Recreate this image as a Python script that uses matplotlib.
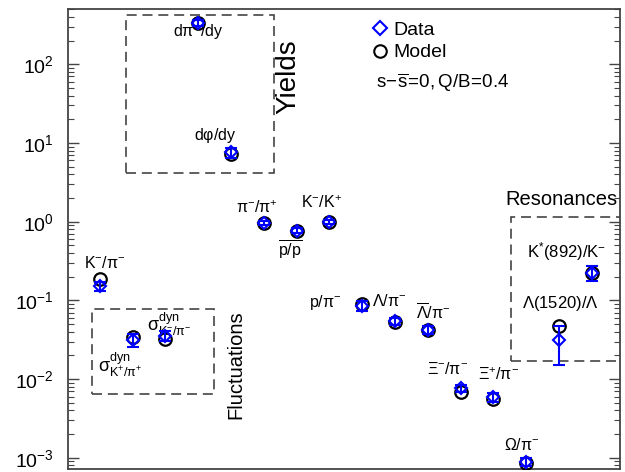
import matplotlib
matplotlib.use('Agg')
import matplotlib.pyplot as plt
from matplotlib.patches import Rectangle
from matplotlib.lines import Line2D
import numpy as np

plt.rcParams['font.family'] = ['Liberation Sans', 'DejaVu Sans']
plt.rcParams['mathtext.fontset'] = 'custom'
plt.rcParams['mathtext.rm'] = 'Liberation Sans'
plt.rcParams['mathtext.it'] = 'Liberation Sans:italic'
plt.rcParams['mathtext.bf'] = 'Liberation Sans:bold'

# particle ratios / yields, one slot per x position 1..16
pos = np.arange(1, 17)
data = [0.152, 0.0314, 0.0353, 338, 7.6, 0.96, 0.77, 0.99,
        0.086, 0.054, 0.042, 0.0077, 0.0059, 0.00088, 0.0314, 0.224]
data_err = [0.02, 0.0055, 0.005, 30, 1.1, 0.05, 0.05, 0.05,
            0.013, 0.006, 0.005, 0.0008, 0.0008, 0.0001, 0.0163, 0.049]
model = [0.185, 0.034, 0.032, 338, 7.3, 0.955, 0.768, 1.0,
         0.090, 0.053, 0.0415, 0.0069, 0.0056, 0.00086, 0.0473, 0.224]

# label text, x, y, size
labels = [
    (r'$\mathregular{K^{-}/π^{-}}$', 1.15, 0.30, 11.5),
    (r'$\mathregular{σ^{dyn}_{K^{+}/π^{+}}}$', 1.62, 0.0150, 13),
    (r'$\mathregular{σ^{dyn}_{K^{-}/π^{-}}}$', 3.1, 0.050, 13),
    (r'$\mathregular{dπ^{-}/dy}$', 3.99, 258, 11.5),
    (r'$\mathregular{dφ/dy}$', 4.51, 12.6, 11.5),
    (r'$\mathregular{π^{-}/π^{+}}$', 5.79, 1.49, 11.5),
    (r'$\mathregular{\overline{p/p}}$', 6.81, 0.425, 11.5),
    (r'$\mathregular{K^{-}/K^{+}}$', 7.77, 1.73, 11.5),
    (r'$\mathregular{p/π^{-}}$', 7.87, 0.0933, 11.5),
    (r'$\mathregular{Λ/π^{-}}$', 9.82, 0.0988, 11.5),
    (r'$\mathregular{\overline{Λ}/π^{-}}$', 11.16, 0.070, 11.5),
    (r'$\mathregular{Ξ^{-}/π^{-}}$', 11.59, 0.0134, 11.5),
    (r'$\mathregular{Ξ^{+}/π^{-}}$', 13.17, 0.0113, 11.5),
    (r'$\mathregular{Ω/π^{-}}$', 13.86, 0.00144, 11.5),
    (r'$\mathregular{Λ(1520)/Λ}$', 15.04, 0.0913, 12),
    (r'$\mathregular{K^{*}(892)/K^{-}}$', 15.23, 0.415, 12),
]

# dashed group boxes: x0, x1, y0, y1
boxes = [(1.79, 6.31, 4.16, 427), (0.757, 4.48, 0.00643, 0.0778),
         (13.54, 17.5, 0.0169, 1.147)]

fig = plt.figure(figsize=(6.25, 4.72), dpi=100)
ax = fig.add_axes([0.1088, 0.0064, 0.8832, 0.9746])
ax.set_yscale('log')
ax.set_xlim(0.03, 16.86)
ax.set_ylim(7.2e-4, 504)

ax.plot(pos, model, 'o', ms=9, mfc='none', mec='black', mew=1.6, zorder=3)
ax.errorbar(pos, data, yerr=data_err, fmt='D', ms=6.5, mfc='none', mec='#0000ff',
            mew=1.5, ecolor='#0000ff', elinewidth=1.5, capsize=4.5, capthick=1.5, zorder=4)

for x0, x1, y0, y1 in boxes:
    ax.add_patch(Rectangle((x0, y0), x1 - x0, y1 - y0, fill=False, ec='#444444',
                           lw=1.2, ls=(0, (6, 3.5)), clip_on=True))

for txt, x, y, fs in labels:
    ax.text(x, y, txt, fontsize=fs, ha='center', va='center')

ax.text(6.74, 68.7, 'Yields', fontsize=20, rotation=90, ha='center', va='center')
ax.text(5.15, 0.0151, 'Fluctuations', fontsize=14.5, rotation=90, ha='center', va='center')
ax.text(15.06, 1.89, 'Resonances', fontsize=14.5, ha='center', va='center')
ax.text(0.558, 0.839, r'$\mathregular{s\!-\!\overline{s}\!=\!0,Q/B\!=\!0.4}$', fontsize=13.5,
        transform=ax.transAxes, ha='left', va='center')

h1 = Line2D([], [], ls='none', marker='D', ms=7.5, mfc='none', mec='#0000ff', mew=1.5)
h2 = Line2D([], [], ls='none', marker='o', ms=9, mfc='none', mec='black', mew=1.5)
ax.legend([h1, h2], ['Data', 'Model'], loc='upper left', bbox_to_anchor=(0.53, 0.99),
          frameon=False, fontsize=14, handletextpad=0.1, labelspacing=0.25,
          handlelength=1.2, borderaxespad=0)

ax.set_xticks([])
ax.set_yticks([1e-3, 1e-2, 1e-1, 1, 10, 100])
ax.set_yticklabels([r'$\mathregular{10^{-3}}$', r'$\mathregular{10^{-2}}$', r'$\mathregular{10^{-1}}$',
                    r'$\mathregular{10^{0}}$', r'$\mathregular{10^{1}}$', r'$\mathregular{10^{2}}$'])
ax.tick_params(axis='y', which='both', direction='in', right=True, color='#444444')
ax.tick_params(axis='y', which='major', length=8, width=1, labelsize=14, pad=10)
ax.tick_params(axis='y', which='minor', length=4, width=0.8)
for s in ax.spines.values():
    s.set_color('#444444')
    s.set_linewidth(1.3)

fig.savefig('out.png', dpi=100)
